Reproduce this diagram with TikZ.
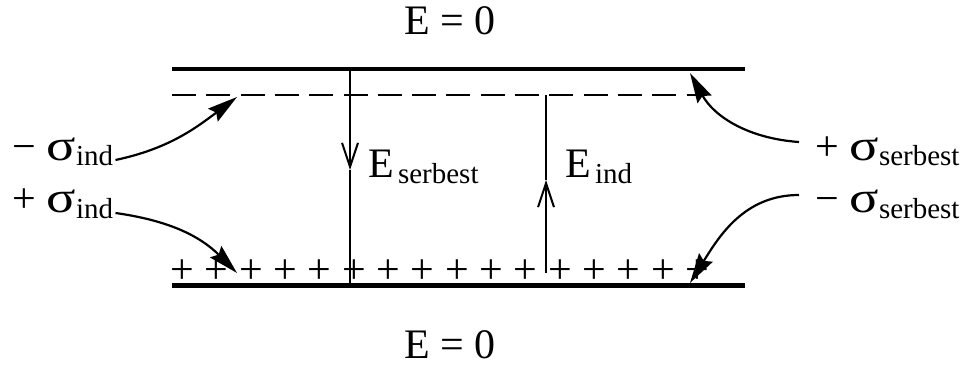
\documentclass[tikz,border=0pt]{standalone}
\usepackage{fontspec}
\setmainfont{Liberation Serif}
\usepackage{tikz}
\usetikzlibrary{arrows.meta}

\newcommand{\lowsub}[1]{\raisebox{-2.8pt}{\fontsize{14.5}{16}\selectfont #1}}
\newcommand{\wsig}{\scalebox{1.3}[1.05]{σ}}

\begin{document}
\begin{tikzpicture}[
  x=0.5pt, y=0.5pt,
  lbl/.style={inner sep=1pt, font=\fontsize{21}{25}\selectfont},
  plate/.style={line width=2.2pt},
  field/.style={line width=1pt},
  curv/.style={-{Stealth[length=15pt, width=8pt, inset=2pt]}, line width=1.1pt},
]
\tikzset{>={Straight Barb[length=12pt, width=8pt]}}
\useasboundingbox (0,0) rectangle (966,365);

  % Nodes
  \coordinate (tl) at (172,296);
  \coordinate (tr) at (745,296);
  \coordinate (bl) at (172,79.5);
  \coordinate (br) at (745,79.5);
  \coordinate (dl) at (172,270);
  \coordinate (dr) at (707,270);

  \coordinate (es1) at (350,296);
  \coordinate (es2) at (350,195);
  \coordinate (es3) at (350,82);
  \coordinate (ei1) at (546,92);
  \coordinate (ei2) at (546,185);
  \coordinate (ei3) at (546,270);

  \coordinate (c1) at (237,268);
  \coordinate (c2) at (237,92);
  \coordinate (c3) at (690,292);
  \coordinate (c4) at (690,82);

  \foreach \i in {0,...,15}
    \node[lbl, inner sep=0pt, anchor=base] (p\i) at (182.3+34.33*\i, 82) {+};

  \node[lbl, anchor=base] (etop) at (450,330) {E = 0};
  \node[lbl, anchor=base] (ebot) at (450,7) {E = 0};
  \node[lbl, anchor=base west] (eserb) at (366,187) {E\hspace{2pt}\lowsub{serbest}};
  \node[lbl, anchor=base west] (eind) at (563,187) {E\hspace{2pt}\lowsub{ind}};

  \node[lbl, anchor=base west] (lmin) at (10,205) {− \wsig\lowsub{ind}};
  \node[lbl, anchor=base west] (lplus) at (10,152) {+ \wsig\lowsub{ind}};
  \node[lbl, anchor=base west] (rplus) at (813,205) {+ \wsig\lowsub{serbest}};
  \node[lbl, anchor=base west] (rmin) at (813,152) {− \wsig\lowsub{serbest}};

  % Edges
  \draw[plate] (tl) -- (tr);
  \draw[plate] (bl) -- (br);
  \draw[field, dash pattern=on 12pt off 5.15pt] (dl) -- (dr);

  \draw[field, ->] (es1) -- (es2);
  \draw[field] (es2) -- (es3);
  \draw[field, ->] (ei1) -- (ei2);
  \draw[field] (ei2) -- (ei3);

  \draw[curv] (lmin.base east) to[out=12, in=217] (c1);
  \draw[curv] (lplus.base east) to[out=-8, in=135] (c2);
  \draw[curv] ([xshift=-7pt, yshift=9pt]rplus.base west) to[out=176, in=-61] (c3);
  \draw[curv] ([xshift=-7pt, yshift=9pt]rmin.base west) to[out=180, in=58] (c4);

\end{tikzpicture}
\end{document}
